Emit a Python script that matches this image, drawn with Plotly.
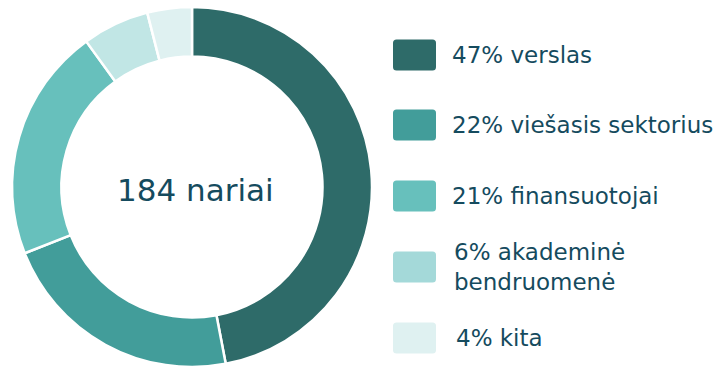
import plotly.graph_objects as go

W, H = 727, 371

# Membership breakdown (percent of 184 members)
categories = ["verslas", "viešasis sektorius", "finansuotojai", "akademinė<br>bendruomenė", "kita"]
shares = [47, 22, 21, 6, 4]
total_members = 184

slice_colors = ["#2E6B69", "#429D9A", "#67C0BC", "#C1E6E5", "#DFF1F1"]
swatch_colors = ["#2E6B69", "#429D9A", "#67C0BC", "#A4D9D9", "#DFF1F1"]
text_color = "#154B5E"
font_family = "DejaVu Sans, sans-serif"

fig = go.Figure(
    go.Pie(
        values=shares,
        labels=categories,
        hole=0.725,
        sort=False,
        direction="clockwise",
        rotation=0,
        marker=dict(colors=slice_colors, line=dict(color="white", width=2.5)),
        textinfo="none",
        hoverinfo="label+percent",
        showlegend=False,
        domain=dict(x=[12 / W, 372 / W], y=[4 / H, 364 / H]),
    )
)


def px_x(v):
    return v / W


def px_y(v):
    return 1 - v / H


def rounded_rect(x0, y0, x1, y1, r):
    # rounded rectangle path in paper coordinates, pixel inputs (top-left origin)
    pts = [
        f"M {px_x(x0 + r)},{px_y(y0)}",
        f"L {px_x(x1 - r)},{px_y(y0)}",
        f"Q {px_x(x1)},{px_y(y0)} {px_x(x1)},{px_y(y0 + r)}",
        f"L {px_x(x1)},{px_y(y1 - r)}",
        f"Q {px_x(x1)},{px_y(y1)} {px_x(x1 - r)},{px_y(y1)}",
        f"L {px_x(x0 + r)},{px_y(y1)}",
        f"Q {px_x(x0)},{px_y(y1)} {px_x(x0)},{px_y(y1 - r)}",
        f"L {px_x(x0)},{px_y(y0 + r)}",
        f"Q {px_x(x0)},{px_y(y0)} {px_x(x0 + r)},{px_y(y0)}",
        "Z",
    ]
    return " ".join(pts)


# legend rows
row_centers = [55, 125, 196, 267, 338]
text_x = [450, 450, 450, 452, 454]
shapes = []
annotations = []
for i, (cat, share) in enumerate(zip(categories, shares)):
    cy = row_centers[i]
    shapes.append(
        dict(
            type="path",
            xref="paper",
            yref="paper",
            path=rounded_rect(393, cy - 15.5, 436, cy + 15.5, 3.5),
            fillcolor=swatch_colors[i],
            line=dict(width=0),
        )
    )
    annotations.append(
        dict(
            x=px_x(text_x[i]),
            y=px_y(cy),
            xref="paper",
            yref="paper",
            xanchor="left",
            yanchor="middle",
            align="left",
            showarrow=False,
            text=f"{share}% {cat}",
            font=dict(family=font_family, size=23, color=text_color),
        )
    )

annotations.append(
    dict(
        x=px_x(195),
        y=px_y(190),
        xref="paper",
        yref="paper",
        xanchor="center",
        yanchor="middle",
        showarrow=False,
        text=f"{total_members} nariai",
        font=dict(family=font_family, size=31, color=text_color),
    )
)

fig.update_layout(
    width=W,
    height=H,
    margin=dict(l=0, r=0, t=0, b=0),
    paper_bgcolor="white",
    plot_bgcolor="white",
    shapes=shapes,
    annotations=annotations,
)

fig.write_html("out.html")
